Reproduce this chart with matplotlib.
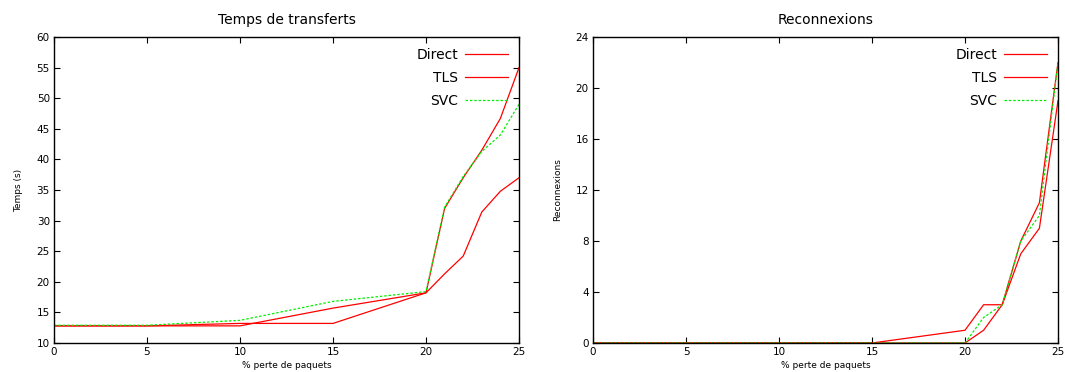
import numpy as np
import matplotlib
matplotlib.use("Agg")
import matplotlib.pyplot as plt

# % perte de paquets
perte = [0, 5, 10, 15, 20, 21, 22, 23, 24, 25]

# Temps de transferts (s)
temps_direct = [12.8, 12.8, 12.8, 15.7, 18.2, 32.0, 37.0, 41.5, 46.7, 55.0]
temps_tls = [12.8, 12.8, 13.2, 13.2, 18.2, 21.3, 24.2, 31.4, 34.8, 37.0]
temps_svc = [12.9, 12.9, 13.7, 16.8, 18.4, 32.2, 37.2, 41.3, 44.0, 49.0]

# Reconnexions
reco_direct = [0, 0, 0, 0, 1, 3, 3, 8, 11, 22]
reco_tls = [0, 0, 0, 0, 0, 1, 3, 7, 9, 19]
reco_svc = [0, 0, 0, 0, 0, 2, 3, 8, 10, 22]

plt.rcParams["font.family"] = "DejaVu Sans"

fig = plt.figure(figsize=(10.65, 3.72), dpi=100)
W, H = 1065, 372
ax1 = fig.add_axes([54 / W, 1 - 343 / H, 465 / W, 306 / H])
ax2 = fig.add_axes([593 / W, 1 - 343 / H, 465 / W, 306 / H])


def style(ax, title, ylabel, ylim, yticks):
    ax.set_xlim(0, 25)
    ax.set_ylim(*ylim)
    ax.set_xticks([0, 5, 10, 15, 20, 25])
    ax.set_yticks(yticks)
    ax.tick_params(direction="in", top=True, right=True, labelsize=7.5,
                   length=4, width=0.8, pad=3)
    for s in ax.spines.values():
        s.set_linewidth(1.0)
    ax.set_title(title, fontsize=10, pad=9)
    ax.set_ylabel(ylabel, fontsize=6.5, labelpad=10)
    ax.set_xlabel("% perte de paquets", fontsize=6.5, labelpad=3)
    ax.legend(loc="upper right", frameon=False, markerfirst=False,
              fontsize=10, handlelength=3.1, labelspacing=0.65,
              borderaxespad=0.6, borderpad=0.2, handletextpad=0.5)


lw = 0.9
ax1.plot(perte, temps_direct, color="#ff0000", lw=lw, label="Direct")
ax1.plot(perte, temps_tls, color="#ff0000", lw=lw, label="TLS")
ax1.plot(perte, temps_svc, color="#00ee00", lw=lw, ls=(0, (2, 1.5)), label="SVC")
style(ax1, "Temps de transferts", "Temps (s)", (10, 60), np.arange(10, 61, 5))

ax2.plot(perte, reco_direct, color="#ff0000", lw=lw, label="Direct")
ax2.plot(perte, reco_tls, color="#ff0000", lw=lw, label="TLS")
ax2.plot(perte, reco_svc, color="#00ee00", lw=lw, ls=(0, (2, 1.5)), label="SVC")
style(ax2, "Reconnexions", "Reconnexions", (0, 24), np.arange(0, 25, 4))

fig.savefig("out.png", dpi=100)
